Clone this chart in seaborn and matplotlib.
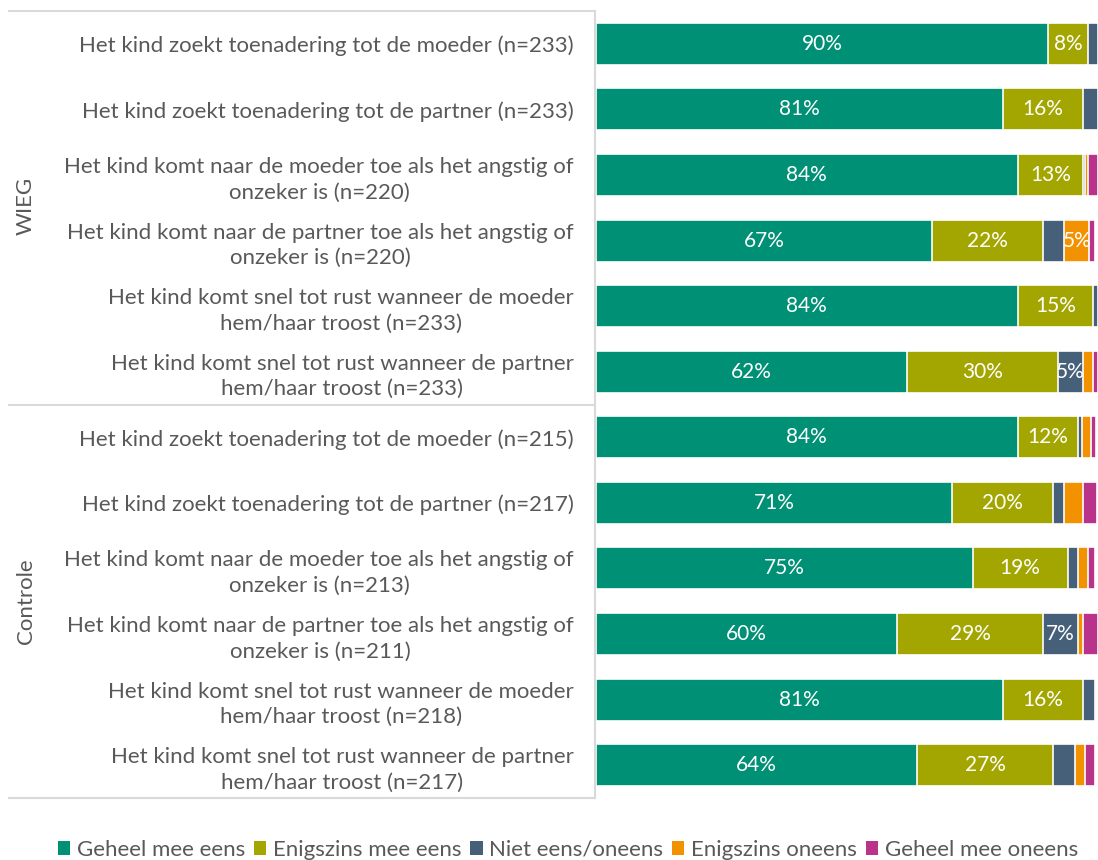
import numpy as np
import pandas as pd
import matplotlib.pyplot as plt
from matplotlib.lines import Line2D
from matplotlib.patches import Patch
import seaborn as sns

# Data (percentages)
items = [
    "Het kind zoekt toenadering tot de moeder (n=233)",
    "Het kind zoekt toenadering tot de partner (n=233)",
    "Het kind komt naar de moeder toe als het angstig of\nonzeker is (n=220)",
    "Het kind komt naar de partner toe als het angstig of\nonzeker is (n=220)",
    "Het kind komt snel tot rust wanneer de moeder\nhem/haar troost (n=233)",
    "Het kind komt snel tot rust wanneer de partner\nhem/haar troost (n=233)",
    "Het kind zoekt toenadering tot de moeder (n=215)",
    "Het kind zoekt toenadering tot de partner (n=217)",
    "Het kind komt naar de moeder toe als het angstig of\nonzeker is (n=213)",
    "Het kind komt naar de partner toe als het angstig of\nonzeker is (n=211)",
    "Het kind komt snel tot rust wanneer de moeder\nhem/haar troost (n=218)",
    "Het kind komt snel tot rust wanneer de partner\nhem/haar troost (n=217)",
]
groups = ["WIEG", "Controle"]
categories = ["Geheel mee eens", "Enigszins mee eens", "Niet eens/oneens",
              "Enigszins oneens", "Geheel mee oneens"]

geheel_eens = [90, 81, 84, 67, 84, 62, 84, 71, 75, 60, 81, 64]
enigszins_eens = [8, 16, 13, 22, 15, 30, 12, 20, 19, 29, 16, 27]
niet_eens = [2, 3, 0.5, 4.3, 1, 5, 0.8, 2.3, 2, 7, 2.5, 4.5]
enigszins_oneens = [0, 0, 0.5, 5, 0, 2, 1.8, 3.8, 2, 1, 0.2, 2]
geheel_oneens = [0, 0, 2, 1.2, 0, 1, 1, 2.7, 1.5, 3, 0, 2]

colors = ["#009075", "#a3a600", "#46607a", "#f39200", "#b9338a"]

values = np.array([geheel_eens, enigszins_eens, niet_eens,
                   enigszins_oneens, geheel_oneens])
cum = values.cumsum(axis=0)

plt.rcParams['font.family'] = ['Lato', 'DejaVu Sans']
fig = plt.figure(figsize=(10.98, 8.6), dpi=100)
ax = fig.add_axes([596 / 1098, 1 - 798 / 860, 1 - 596 / 1098, 787 / 860])

# stacked bars: draw cumulative totals from largest to smallest
for k in range(len(categories) - 1, -1, -1):
    df = pd.DataFrame({"item": items, "value": cum[k]})
    sns.barplot(data=df, x="value", y="item", orient="h", color=colors[k],
                saturation=1, width=0.64, edgecolor="white", linewidth=1.2,
                ax=ax)

# value labels
for k in range(len(categories)):
    for i in range(len(items)):
        v = values[k, i]
        if round(v) >= 5:
            left = cum[k, i] - v
            ax.text(left + v / 2, i, f"{round(v)}%", ha="center", va="center",
                    color="white", fontsize=15)

ax.set_xlim(0, 100)
ax.set_ylim(len(items) - 0.5, -0.5)
ax.set_xlabel("")
ax.set_ylabel("")
ax.set_xticks([])
for s in ax.spines.values():
    s.set_visible(False)
ax.tick_params(axis="y", length=0, pad=16, labelsize=16, labelcolor="#595959")
for t in ax.get_yticklabels():
    t.set_multialignment("center")
    t.set_linespacing(1.35)

# left table lines
line_color = "#d9d9d9"
x0, x1 = 9 / 1098, 595 / 1098
for yp in [11, 405, 798]:
    y = 1 - yp / 860
    fig.add_artist(Line2D([x0, x1], [y, y], color=line_color, lw=1.5))
fig.add_artist(Line2D([x1, x1], [1 - 11 / 860, 1 - 798 / 860],
                      color=line_color, lw=1.5))

# group labels
fig.text(26 / 1098, 1 - 206 / 860, groups[0], rotation=90, ha="center",
         va="center", fontsize=16, color="#595959")
fig.text(26 / 1098, 1 - 601 / 860, groups[1], rotation=90, ha="center",
         va="center", fontsize=16, color="#595959")

handles = [Patch(facecolor=c, edgecolor="none") for c in colors]
leg = fig.legend(handles, categories, loc="center", ncol=5,
                 bbox_to_anchor=(568 / 1098, 1 - 850 / 860), frameon=False,
                 fontsize=16, handlelength=0.55, handleheight=0.55,
                 handletextpad=0.3, columnspacing=0.4)
for t in leg.get_texts():
    t.set_color("#595959")

fig.savefig("out.png", dpi=100)
